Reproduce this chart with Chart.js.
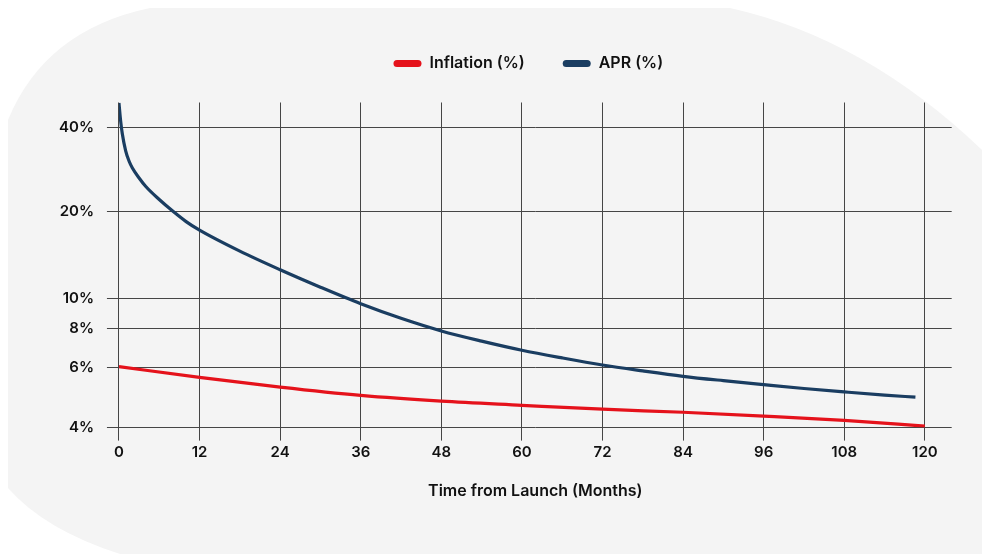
<!DOCTYPE html>
<html>
<head>
<meta charset="utf-8">
<script src="https://cdn.jsdelivr.net/npm/chart.js@4.4.1/dist/chart.umd.min.js"></script>
<style>
  html, body { margin: 0; padding: 0; background: #ffffff; overflow: hidden; }
  #wrap { position: absolute; left: 0; top: 0; width: 982px; height: 554px; }
</style>
</head>
<body>
<div id="wrap"><canvas id="c"></canvas></div>
<script>
// ---- data ----
const xTicks = [0, 12, 24, 36, 48, 60, 72, 84, 96, 108, 120];
const yTicks = [4, 6, 8, 10, 20, 40];

const inflationMonths = [0, 12, 24, 36, 48, 60, 72, 84, 96, 108, 120];
const inflationValues = [6.05, 5.61, 5.24, 4.95, 4.76, 4.63, 4.51, 4.42, 4.31, 4.19, 4.04];

const aprMonths = [0, 0.25, 0.5, 1, 1.5, 2, 3, 4, 6, 8, 10, 12, 18, 24, 30, 36, 42, 48, 54, 60, 66, 72, 78, 84, 90, 96, 102, 108, 114, 118.6];
const aprValues = [49.0, 42.2, 37.9, 32.9, 30.25, 28.55, 26.29, 24.51, 22.04, 20.07, 18.43, 17.2, 14.54, 12.55, 10.95, 9.64, 8.63, 7.85, 7.28, 6.81, 6.44, 6.12, 5.87, 5.65, 5.48, 5.33, 5.19, 5.07, 4.96, 4.89];

const seriesNames = ['Inflation (%)', 'APR (%)'];
const xTitle = 'Time from Launch (Months)';

// ---- custom shifted-log scale: position ~ log(value - shift) ----
const Y_SHIFT = 1;
class ShiftedLogScale extends Chart.LinearScale {
  buildTicks() { return yTicks.map(v => ({ value: v })); }
  slLo() { return Math.log(this.min - Y_SHIFT); }
  slHi() { return Math.log(this.max - Y_SHIFT); }
  getPixelForValue(value) {
    const lo = this.slLo(), hi = this.slHi();
    return this.getPixelForDecimal((Math.log(value - Y_SHIFT) - lo) / (hi - lo));
  }
  getValueForPixel(pixel) {
    const lo = this.slLo(), hi = this.slHi();
    return Y_SHIFT + Math.exp(lo + this.getDecimalForPixel(pixel) * (hi - lo));
  }
}
ShiftedLogScale.id = 'shiftedLog';
ShiftedLogScale.defaults = Chart.LinearScale.defaults;
Chart.register(ShiftedLogScale);

// ---- background blob ----
const blob = {
  id: 'blob',
  beforeDraw(chart) {
    const ctx = chart.ctx;
    ctx.save();
    ctx.fillStyle = '#ffffff';
    ctx.fillRect(0, 0, chart.width, chart.height);
    ctx.fillStyle = '#f4f4f4';
    ctx.beginPath();
    ctx.moveTo(150, 8);
    ctx.lineTo(730, 8);
    ctx.quadraticCurveTo(865, 38, 982, 150);
    ctx.lineTo(982, 554);
    ctx.lineTo(120, 554);
    ctx.quadraticCurveTo(45, 530, 8, 488);
    ctx.lineTo(8, 120);
    ctx.quadraticCurveTo(45, 30, 150, 8);
    ctx.closePath();
    ctx.fill();
    ctx.restore();
  }
};

// extra room under the legend, and centre it like the original
const legendTweak = {
  id: 'legendTweak',
  beforeInit(chart) {
    const fit = chart.legend.fit;
    chart.legend.fit = function () { fit.call(this); this.height += 21; };
  },
  afterLayout(chart) {
    chart.legend.left -= 7;
    chart.legend.right -= 7;
  }
};

const FONT = "Inter, 'Noto Sans', sans-serif";
const RED = '#e5121b';
const NAVY = '#1a3d61';
const GRID = '#454545';

new Chart(document.getElementById('c'), {
  type: 'line',
  data: {
    datasets: [
      {
        label: seriesNames[0],
        data: inflationMonths.map((m, i) => ({ x: m, y: inflationValues[i] })),
        borderColor: RED, backgroundColor: RED,
        borderWidth: 3.2, pointRadius: 0, cubicInterpolationMode: 'monotone'
      },
      {
        label: seriesNames[1],
        data: aprMonths.map((m, i) => ({ x: m, y: aprValues[i] })),
        borderColor: NAVY, backgroundColor: NAVY,
        borderWidth: 3.2, pointRadius: 0, cubicInterpolationMode: 'monotone'
      }
    ]
  },
  options: {
    responsive: true,
    maintainAspectRatio: false,
    animation: false,
    layout: { padding: { left: 46, right: 30.3, top: 17.5, bottom: 53.5 } },
    plugins: {
      tooltip: { enabled: false },
      legend: {
        position: 'top',
        fullSize: false,
        labels: {
          boxWidth: 28, boxHeight: 7, useBorderRadius: true, borderRadius: 3.5,
          padding: 38, color: '#111111',
          font: { family: FONT, size: 16, weight: '600' },
          generateLabels(chart) {
            const items = Chart.defaults.plugins.legend.labels.generateLabels(chart);
            items.forEach(it => { it.lineWidth = 0; });
            return items;
          }
        }
      }
    },
    scales: {
      x: {
        type: 'linear', min: 0, max: 124,
        afterBuildTicks(scale) { scale.ticks = xTicks.map(v => ({ value: v })); },
        grid: { color: GRID, lineWidth: 1, tickLength: 13, drawTicks: true },
        border: { display: false },
        ticks: { color: '#111111', padding: 3, maxRotation: 0, font: { family: FONT, size: 15, weight: '600' } },
        title: { display: true, text: xTitle, color: '#111111', padding: { top: 16.7, bottom: 0 },
                 font: { family: FONT, size: 16, weight: '600' } }
      },
      y: {
        type: 'shiftedLog', min: 4, max: 49.2,
        grid: { color: GRID, lineWidth: 1, tickLength: 12, drawTicks: true },
        border: { display: false },
        ticks: { color: '#111111', padding: 13, font: { family: FONT, size: 15, weight: '600' },
                 callback: v => v + '%' }
      }
    }
  },
  plugins: [blob, legendTweak]
});
</script>
</body>
</html>
